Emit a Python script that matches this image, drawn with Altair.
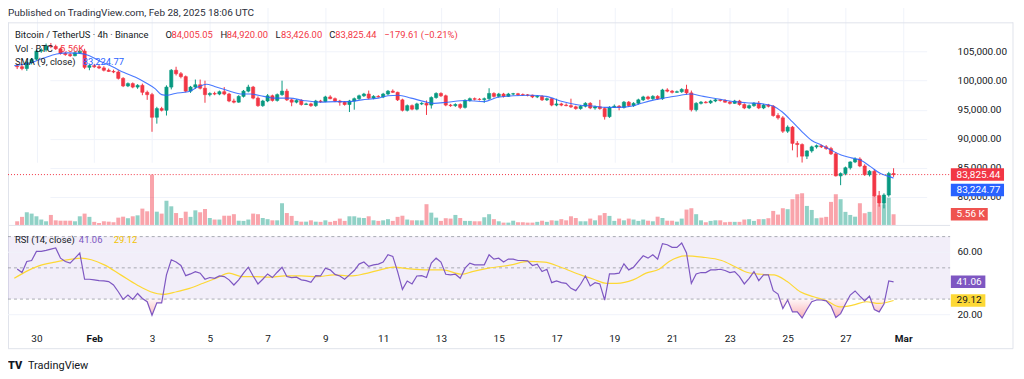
import altair as alt
import pandas as pd

# ---------------- values (prices in thousands USDT) ----------------
opens = [
    102.5, 102.4, 102.1, 103.1, 103.7, 105.1, 105.3, 106.0, 105.9, 105.5,
    104.7, 104.5, 104.3, 104.8, 105.1, 102.3, 102.6, 102.4, 102.2, 101.8,
    101.6, 101.5, 100.4, 99.1, 99.5, 98.9, 99.2, 98.0, 97.6, 93.7,
    95.2, 94.9, 98.9, 101.8, 101.2, 100.7, 98.2, 98.9, 99.3, 98.7,
    97.6, 97.8, 97.7, 98.1, 97.7, 96.5, 96.3, 97.3, 98.2, 98.9,
    97.0, 95.7, 96.5, 97.4, 96.6, 97.6, 98.2, 96.7, 96.3, 96.6,
    95.9, 96.0, 95.7, 96.5, 96.4, 97.2, 96.9, 96.5, 96.3, 95.9,
    96.5, 96.9, 97.4, 97.7, 97.0, 97.3, 97.2, 97.7, 98.2, 98.0,
    96.7, 94.9, 95.7, 95.1, 96.0, 96.1, 95.8, 97.1, 97.8, 97.4,
    95.8, 95.7, 95.9, 95.4, 96.6, 96.9, 96.8, 96.75, 96.9, 97.8,
    97.3, 97.7, 97.3, 97.7, 97.75, 97.6, 97.55, 97.5, 97.2, 97.3,
    96.7, 96.9, 95.8, 96.0, 95.8, 95.7, 95.5, 95.2, 95.6, 96.1,
    95.3, 95.5, 95.2, 93.8, 95.4, 95.6, 95.4, 96.3, 95.7, 96.1,
    96.7, 97.2, 96.9, 97.3, 96.9, 98.4, 98.2, 98.0, 98.1, 98.5,
    97.9, 95.0, 96.1, 96.3, 96.2, 96.5, 96.7, 96.6, 96.3, 96.1,
    96.5, 95.9, 95.3, 95.7, 96.1, 95.3, 95.8, 95.6, 94.0, 93.6,
    91.3, 92.0, 89.2, 89.0, 87.0, 87.9, 88.6, 88.8, 88.6, 88.3,
    87.4, 83.6, 84.0, 85.0, 86.0, 86.5, 85.3, 83.8, 84.4, 80.2,
    78.9, 80.3, 84.00505,
]
highs = [
    102.9, 102.8, 103.4, 103.9, 105.4, 105.6, 106.4, 106.5, 106.2, 105.7,
    105.0, 104.8, 105.0, 105.3, 105.5, 102.8, 102.9, 102.7, 102.5, 102.1,
    101.9, 101.8, 100.6, 99.7, 99.7, 99.4, 99.5, 98.3, 97.9, 95.5,
    95.5, 99.2, 102.0, 102.4, 101.5, 100.9, 99.1, 100.2, 100.2, 100.0,
    98.0, 98.1, 98.3, 98.9, 97.9, 96.9, 97.5, 98.4, 99.3, 99.1,
    97.3, 96.7, 97.7, 97.6, 97.8, 100.0, 98.6, 96.9, 96.8, 96.8,
    96.2, 96.2, 96.7, 96.7, 97.4, 97.5, 97.1, 96.7, 96.5, 96.7,
    97.1, 97.6, 97.9, 98.3, 97.5, 97.5, 97.9, 98.4, 98.5, 98.1,
    96.9, 95.9, 95.9, 96.2, 96.3, 96.6, 97.3, 98.0, 98.0, 97.6,
    96.0, 96.1, 96.1, 96.8, 97.1, 97.1, 97.0, 97.1, 98.7, 98.0,
    97.9, 97.9, 97.9, 97.9, 97.9, 97.8, 97.7, 97.6, 97.5, 97.5,
    97.1, 97.0, 96.9, 96.2, 96.1, 96.9, 95.7, 95.8, 96.3, 96.3,
    95.7, 96.7, 95.4, 95.6, 95.9, 95.8, 96.5, 96.5, 96.3, 96.9,
    97.4, 97.4, 97.5, 97.5, 98.6, 98.7, 98.4, 98.3, 98.7, 99.3,
    98.3, 96.3, 96.5, 96.5, 96.7, 96.9, 96.8, 96.8, 96.5, 96.7,
    96.7, 96.1, 95.9, 96.3, 96.5, 96.0, 96.0, 95.8, 94.4, 93.9,
    92.3, 92.2, 89.6, 89.2, 88.0, 88.8, 89.0, 89.0, 88.9, 88.6,
    87.7, 84.2, 85.2, 86.1, 86.8, 86.8, 85.6, 84.6, 84.7, 81.0,
    80.6, 84.3, 84.92,
]
lows = [
    102.0, 101.8, 101.7, 102.8, 103.5, 104.8, 105.0, 105.6, 105.3, 104.5,
    104.3, 104.1, 104.2, 104.6, 102.0, 101.8, 102.2, 102.0, 101.6, 101.5,
    101.3, 100.2, 98.9, 98.9, 98.7, 98.6, 97.5, 96.7, 91.2, 92.6,
    94.7, 94.0, 98.5, 100.9, 100.4, 98.0, 97.9, 98.6, 98.5, 96.2,
    97.3, 97.5, 97.5, 97.5, 96.3, 96.1, 96.2, 97.1, 98.0, 96.8,
    95.5, 95.5, 96.3, 96.4, 96.4, 97.4, 96.5, 95.6, 96.1, 95.7,
    95.8, 95.5, 95.5, 96.2, 96.3, 96.8, 96.3, 95.7, 95.7, 94.6,
    95.0, 96.7, 97.2, 96.8, 96.8, 97.1, 97.0, 97.5, 97.9, 96.5,
    94.7, 94.7, 94.9, 94.9, 95.8, 94.1, 95.2, 96.9, 97.2, 95.6,
    95.5, 95.5, 95.1, 95.2, 96.4, 96.6, 96.6, 96.2, 96.7, 97.1,
    97.1, 97.1, 97.2, 97.5, 97.4, 97.4, 97.3, 97.0, 97.0, 96.5,
    96.5, 95.6, 95.6, 95.6, 95.6, 95.3, 95.0, 95.0, 95.4, 95.1,
    95.0, 95.0, 93.3, 93.6, 95.3, 94.9, 95.2, 95.5, 95.5, 95.9,
    96.5, 96.7, 96.7, 96.7, 96.7, 98.0, 97.8, 97.9, 97.9, 97.6,
    94.7, 94.7, 95.9, 96.1, 96.0, 96.3, 96.4, 96.2, 95.9, 96.0,
    95.7, 95.1, 95.1, 95.5, 95.1, 95.1, 95.4, 93.8, 93.3, 91.0,
    91.0, 88.0, 86.8, 85.9, 86.5, 87.6, 88.3, 88.4, 88.1, 87.2,
    83.5, 82.0, 83.7, 84.7, 85.8, 85.1, 83.6, 83.5, 80.0, 78.3,
    78.0, 80.0, 83.426,
]
closes = [
    102.4, 102.1, 103.1, 103.7, 105.1, 105.3, 106.0, 105.9, 105.5, 104.7,
    104.5, 104.3, 104.8, 105.1, 102.3, 102.6, 102.4, 102.2, 101.8, 101.6,
    101.5, 100.4, 99.1, 99.5, 98.9, 99.2, 98.0, 97.6, 93.7, 95.2,
    94.9, 98.9, 101.8, 101.2, 100.7, 98.2, 98.9, 99.3, 98.7, 97.6,
    97.8, 97.7, 98.1, 97.7, 96.5, 96.3, 97.3, 98.2, 98.9, 97.0,
    95.7, 96.5, 97.4, 96.6, 97.6, 98.2, 96.7, 96.3, 96.6, 95.9,
    96.0, 95.7, 96.5, 96.4, 97.2, 96.9, 96.5, 96.3, 95.9, 96.5,
    96.9, 97.4, 97.7, 97.0, 97.3, 97.2, 97.7, 98.2, 98.0, 96.7,
    94.9, 95.7, 95.1, 96.0, 96.1, 95.8, 97.1, 97.8, 97.4, 95.8,
    95.7, 95.9, 95.4, 96.6, 96.9, 96.8, 96.75, 96.9, 97.8, 97.3,
    97.7, 97.3, 97.7, 97.75, 97.6, 97.55, 97.5, 97.2, 97.3, 96.7,
    96.9, 95.8, 96.0, 95.8, 95.7, 95.5, 95.2, 95.6, 96.1, 95.3,
    95.5, 95.2, 93.8, 95.4, 95.6, 95.4, 96.3, 95.7, 96.1, 96.7,
    97.2, 96.9, 97.3, 96.9, 98.4, 98.2, 98.0, 98.1, 98.5, 97.9,
    95.0, 96.1, 96.3, 96.2, 96.5, 96.7, 96.6, 96.3, 96.1, 96.5,
    95.9, 95.3, 95.7, 96.1, 95.3, 95.8, 95.6, 94.0, 93.6, 91.3,
    92.0, 89.2, 89.0, 87.0, 87.9, 88.6, 88.8, 88.6, 88.3, 87.4,
    83.6, 84.0, 85.0, 86.0, 86.5, 85.3, 83.8, 84.4, 80.2, 78.9,
    80.3, 84.00505, 83.82544,
]
volumes_k = [
    1.9, 4.2, 6.6, 5.9, 4.5, 2.8, 1.9, 5.2, 2.4, 2.2,
    2.2, 2.2, 1.9, 4.5, 5.9, 4.2, 1.6, 1.0, 1.9, 1.7,
    1.4, 3.8, 4.3, 3.5, 4.5, 5.0, 8.5, 7.1, 26.2, 6.9,
    5.9, 12.6, 9.7, 6.2, 3.6, 6.9, 4.2, 7.6, 6.6, 8.3,
    3.6, 2.8, 2.8, 4.8, 4.8, 5.6, 2.2, 2.1, 2.8, 5.9,
    5.6, 3.6, 3.0, 2.4, 2.4, 11.3, 6.2, 4.7, 2.1, 1.7,
    1.7, 2.4, 1.7, 1.6, 2.4, 1.6, 2.1, 3.3, 2.1, 4.5,
    4.5, 3.8, 3.6, 4.5, 2.4, 2.1, 2.4, 3.0, 2.1, 4.2,
    4.8, 2.8, 2.4, 2.4, 2.4, 10.8, 6.4, 3.8, 2.1, 3.5,
    3.3, 5.2, 3.6, 2.1, 2.1, 1.9, 1.9, 4.0, 5.6, 3.0,
    1.9, 1.2, 1.2, 2.2, 1.4, 1.4, 1.2, 1.2, 1.6, 2.2,
    1.6, 2.4, 2.2, 3.0, 2.4, 4.5, 3.6, 1.9, 1.9, 3.3,
    2.4, 5.0, 6.2, 4.7, 2.1, 3.3, 2.4, 3.3, 2.8, 2.1,
    2.8, 2.2, 1.9, 4.3, 3.6, 2.2, 2.2, 1.7, 3.3, 8.0,
    8.7, 5.6, 2.4, 1.4, 2.1, 2.4, 2.4, 1.4, 1.6, 1.6,
    1.6, 2.8, 3.0, 2.1, 3.0, 3.0, 3.5, 7.3, 5.4, 8.7,
    8.2, 13.4, 16.0, 16.5, 9.9, 7.8, 3.5, 3.8, 4.2, 12.0,
    16.0, 13.4, 6.8, 5.2, 4.3, 11.3, 6.1, 6.8, 15.6, 10.8,
    10.8, 14.2, 5.56,
]
rsi_values = [
    49.3, 47.0, 54.1, 54.7, 60.5, 60.5, 61.2, 62.0, 62.7, 56.2,
    54.1, 53.0, 56.2, 59.5, 42.7, 42.7, 42.3, 41.8, 41.6, 41.2,
    39.0, 34.7, 29.8, 32.6, 29.8, 33.6, 30.4, 28.3, 19.7, 27.6,
    27.6, 45.5, 55.2, 53.7, 51.5, 45.0, 46.1, 47.6, 46.6, 42.7,
    43.8, 43.3, 44.8, 44.4, 42.3, 39.0, 42.3, 46.6, 50.4, 44.8,
    39.7, 42.7, 46.1, 43.8, 47.2, 50.4, 44.4, 43.8, 44.0, 42.3,
    41.8, 40.7, 45.0, 44.8, 49.8, 48.7, 45.8, 44.8, 42.7, 45.5,
    48.3, 52.4, 53.7, 50.9, 51.9, 52.4, 53.7, 58.4, 57.3, 47.6,
    36.2, 41.6, 39.7, 44.8, 45.0, 43.8, 53.0, 56.2, 53.7, 45.9,
    45.5, 45.9, 43.3, 49.8, 53.0, 51.9, 51.9, 51.9, 58.4, 55.6,
    56.2, 53.7, 55.6, 55.6, 54.7, 54.7, 54.5, 51.5, 52.4, 47.6,
    49.1, 40.5, 41.6, 40.5, 40.1, 36.9, 35.4, 39.5, 44.8, 38.4,
    40.5, 39.7, 29.4, 46.1, 46.1, 46.6, 52.6, 48.7, 50.4, 54.1,
    57.7, 56.2, 58.4, 55.6, 65.5, 64.8, 63.1, 63.1, 65.9, 59.5,
    40.1, 46.1, 47.0, 47.0, 48.7, 48.7, 49.1, 48.3, 47.0, 47.6,
    44.4, 39.7, 43.3, 47.6, 41.8, 45.5, 45.5, 35.4, 33.2, 24.0,
    29.4, 21.8, 21.8, 17.9, 23.3, 28.3, 29.4, 29.4, 28.9, 25.5,
    18.2, 20.7, 26.8, 32.6, 35.2, 31.9, 28.9, 31.9, 23.3, 21.8,
    26.8, 41.6, 41.06,
]
# SMA(9, close) read at sample positions (candle index, thousands)
sma_idx = [-0.6, 2.8, 5.5, 8.2, 10.6, 13, 15, 17.1, 19.8, 22.2, 24.6, 26.6, 28.7, 30, 31.1,
           32.8, 35.5, 37.5, 39.3, 41, 43.7, 46.8, 48.5, 51.2, 53.2, 56.6, 59.4, 62.8, 66.2,
           68.9, 71.6, 75, 77, 79.1, 81.8, 84.6, 86.6, 89.3, 93.1, 96.9, 99.6, 103, 106.4,
           109.8, 113.2, 116.6, 120, 122.1, 124.8, 127.5, 129.6, 132.3, 135, 137.8, 139.8,
           142.5, 145.3, 148, 151.4, 154.8, 156.8, 158.9, 161, 163, 165, 167, 169.1, 171.1,
           173.2, 175.2, 177.2, 179.3, 180.7, 182]
sma_vals = [102.6, 103.1, 103.9, 104.6, 104.8, 104.7, 104.3, 103.4, 102.4, 101.4, 100.6, 99.7,
            98.6, 97.6, 97.5, 97.8, 98.1, 98.9, 99.4, 99.0, 98.3, 97.7, 97.7, 97.3, 97.0, 97.0,
            96.6, 96.3, 96.4, 96.4, 96.7, 97.0, 97.4, 97.5, 97.0, 96.4, 96.1, 96.3, 96.6, 96.4,
            97.1, 97.4, 97.5, 97.3, 96.4, 95.8, 95.6, 95.4, 95.4, 95.6, 96.1, 96.7, 97.1, 97.5,
            97.7, 97.3, 96.9, 96.5, 96.2, 96.0, 95.7, 94.6, 92.9, 91.2, 89.7, 88.9, 88.0, 87.2,
            86.7, 86.3, 85.2, 84.0, 83.6, 83.22477]
# RSI-based MA read at sample positions
rsi_ma_idx = [-0.6, 1.8, 4.5, 7.9, 11.3, 13.3, 15.4, 18.1, 21.5, 24.9, 27.7, 30.4, 33.1, 35.8,
              38.6, 41.3, 44.0, 46.7, 49.5, 52.2, 55.6, 59.0, 62.4, 65.8, 69.2, 72.0, 75.4,
              78.1, 81.5, 85.6, 88.3, 92.4, 94.5, 97.9, 102.6, 106.1, 109.5, 112.9, 117,
              119.7, 122.4, 124.5, 127.9, 130.6, 133.3, 135.4, 138.8, 142.2, 146.3, 149,
              151.7, 154.5, 157.2, 159.9, 162.6, 165.4, 168.1, 170.8, 173.5, 176.3, 179, 182]
rsi_ma_vals = [43.3, 47.6, 51.3, 53.7, 55.6, 56.2, 55.2, 51.9, 45.5, 39.0, 34.7, 33.0, 34.7,
               36.9, 40.1, 43.3, 46.6, 44.4, 44.4, 44.0, 44.8, 44.8, 44.4, 45.5, 44.8, 46.1,
               48.7, 50.4, 49.3, 48.7, 48.7, 45.9, 47.6, 49.8, 51.9, 54.1, 53.7, 50.4, 45.5,
               42.7, 40.1, 40.1, 42.3, 46.6, 49.1, 54.1, 57.7, 56.9, 54.7, 50.9, 47.0, 45.9,
               45.5, 41.2, 34.7, 31.5, 28.9, 25.0, 26.1, 28.3, 27.2, 29.12]

price_ticks = [80000, 85000, 90000, 95000, 100000, 105000]
rsi_ticks = [20, 60]
rsi_levels = [70, 50, 30]
day_ticks = [(1, 30), (2, 1), (2, 3), (2, 5), (2, 7), (2, 9), (2, 11), (2, 13), (2, 15),
             (2, 17), (2, 19), (2, 21), (2, 23), (2, 25), (2, 27), (3, 1)]

# ---------------- tables ----------------
START = pd.Timestamp("2025-01-29 08:00:00")


def ts(idx):
    return (START + pd.Timedelta(hours=4 * idx)).strftime("%Y-%m-%dT%H:%M:%SZ")


n = len(closes)
candles = pd.DataFrame({
    "t": [ts(i) for i in range(n)],
    "open": [v * 1000 for v in opens],
    "high": [v * 1000 for v in highs],
    "low": [v * 1000 for v in lows],
    "close": [v * 1000 for v in closes],
    "vol": volumes_k,
    "rsi": rsi_values,
})
candles["dir"] = ["up" if c >= o else "down" for o, c in zip(opens, closes)]
sma_df = pd.DataFrame({"t": [ts(i) for i in sma_idx], "v": [v * 1000 for v in sma_vals]})
rsima_df = pd.DataFrame({"t": [ts(i) for i in rsi_ma_idx], "v": rsi_ma_vals})
last = candles.tail(1)
ONE = pd.DataFrame({"k": [0]})

# ---------------- styling ----------------
FONT = "Roboto"
TXT = "#131722"
UP, DN = "#089981", "#F23645"
SMA_C, RSI_C, RSIMA_C = "#2962FF", "#7E57C2", "#FDD835"
GRID, FRAME = "#F0F3FA", "#E0E3EB"
W, H = 944, 308
LEG = 9.4  # legend font size

X_SCALE = alt.Scale(type="utc",
                    domain=[alt.DateTime(year=2025, month=1, date=30, utc=True),
                            alt.DateTime(year=2025, month=3, date=1, utc=True)],
                    range=[23.5, 902])
PRICE = alt.Scale(domain=[80000, 105000], range=[174.8, 29.4], zero=False, nice=False)
VOL = alt.Scale(domain=[0, 30], range=[203, 145.3], zero=False, nice=False)
RSI = alt.Scale(domain=[0, 100], range=[324.25, 167.75], zero=False, nice=False)

x_enc = alt.X("t:T", scale=X_SCALE, axis=alt.Axis(
    values=[alt.DateTime(year=2025, month=m, date=d, utc=True) for m, d in day_ticks],
    labelExpr="utcdate(datum.value) == 1 ? utcFormat(datum.value, '%b') : '' + utcdate(datum.value)",
    labelFontWeight={"condition": {"test": "utcdate(datum.value) == 1", "value": "bold"}, "value": "normal"},
    grid=True, gridColor=GRID, domain=False, ticks=False, labelPadding=4,
    labelFont=FONT, labelFontSize=10, labelColor=TXT, title=None,
    labelFlush=False, labelOverlap=False, labelBound=False))
color_enc = alt.Color("dir:N", scale=alt.Scale(domain=["up", "down"], range=[UP, DN]), legend=None)
stroke_enc = alt.Stroke("dir:N", scale=alt.Scale(domain=["up", "down"], range=[UP, DN]), legend=None)
price_axis = alt.Axis(orient="right", values=price_ticks, format=",.2f", grid=True, gridColor=GRID,
                      domain=False, ticks=False, labelPadding=7, labelFont=FONT, labelFontSize=10,
                      labelColor=TXT, title=None, labelOverlap=False)


def txt(s, x, y, color=TXT, size=LEG, weight="normal"):
    return alt.Chart(ONE).mark_text(align="left", baseline="middle", font=FONT, fontSize=size,
                                    fontWeight=weight, color=color).encode(
        x=alt.value(x), y=alt.value(y), text=alt.value(s))


def hline(x1, x2, y, color=FRAME):
    return alt.Chart(ONE).mark_rule(color=color, strokeWidth=1).encode(
        x=alt.value(x1), x2=alt.value(x2), y=alt.value(y))


def vline(x, y1, y2, color=FRAME):
    return alt.Chart(ONE).mark_rule(color=color, strokeWidth=1).encode(
        x=alt.value(x), y=alt.value(y1), y2=alt.value(y2))


def box(df, field, scale, fill, width, text_enc, text_color="white", yoff=0):
    xc = 944.7 + width / 2
    b = alt.Chart(df).mark_tick(orient="horizontal", size=width, thickness=12.5, color=fill,
                                opacity=1, yOffset=yoff).encode(
        x=alt.value(xc), y=alt.Y(field, scale=scale, axis=None))
    t = alt.Chart(df).mark_text(align="left", baseline="middle", font=FONT, fontSize=10,
                                color=text_color, dy=yoff).encode(
        x=alt.value(950.5), y=alt.Y(field, scale=scale, axis=None), text=text_enc)
    return [b, t]


# ---------------- layers ----------------
frame = [hline(0, 1007, 0.5), hline(0, 1007, 327), vline(0.5, 0, 327), vline(1007, 0, 327),
         hline(0, W, 203.5)]

band = alt.Chart(ONE).mark_rect(color=RSI_C, opacity=0.1).encode(
    x=alt.value(0), x2=alt.value(W),
    y=alt.YDatum(70, scale=RSI, axis=None), y2=alt.Y2Datum(30))
rsi_grid = alt.Chart(pd.DataFrame({"lv": rsi_ticks})).mark_rule(color=GRID).encode(
    x=alt.value(0), x2=alt.value(W), y=alt.Y("lv:Q", scale=RSI, axis=None))
rsi_lab = alt.Chart(pd.DataFrame({"lv": rsi_ticks})).mark_text(
    align="left", baseline="middle", font=FONT, fontSize=10, color=TXT).encode(
    x=alt.value(951.3), y=alt.Y("lv:Q", scale=RSI, axis=None), text=alt.Text("lv:Q", format=".2f"))
levels = alt.Chart(pd.DataFrame({"lv": rsi_levels})).mark_rule(
    color="#9598A1", strokeDash=[3, 3], strokeWidth=1, opacity=0.8).encode(
    x=alt.value(0), x2=alt.value(W), y=alt.Y("lv:Q", scale=RSI, axis=None))
oversold = alt.Chart(candles).transform_calculate(lo="min(datum.rsi, 30)", hi="30").mark_area(
    color=alt.Gradient(gradient="linear",
                       stops=[alt.GradientStop(color="rgba(242,54,69,0.04)", offset=0),
                              alt.GradientStop(color="rgba(242,54,69,0.38)", offset=1)],
                       x1=0, x2=0, y1=0, y2=1)).encode(
    x=x_enc, y=alt.Y("lo:Q", scale=RSI, axis=None), y2="hi:Q")
rsi_ma_line = alt.Chart(rsima_df).mark_line(color=RSIMA_C, strokeWidth=1.2, interpolate="monotone").encode(
    x=x_enc, y=alt.Y("v:Q", scale=RSI, axis=None))
rsi_line = alt.Chart(candles).mark_line(color=RSI_C, strokeWidth=1.2).encode(
    x=x_enc, y=alt.Y("rsi:Q", scale=RSI, axis=None))

vol = alt.Chart(candles).mark_bar(size=4, opacity=0.45).encode(
    x=x_enc, y=alt.Y("vol:Q", scale=VOL, axis=None), color=color_enc)
price_line = alt.Chart(last).mark_rule(color=DN, strokeDash=[1, 2], strokeWidth=1).encode(
    x=alt.value(0), x2=alt.value(W), y=alt.Y("close:Q", scale=PRICE, axis=None))
wick = alt.Chart(candles).mark_rule(strokeWidth=1, opacity=1).encode(
    x=x_enc, y=alt.Y("low:Q", scale=PRICE, axis=price_axis), y2="high:Q", color=color_enc)
body = alt.Chart(candles).mark_bar(size=3.2, strokeWidth=0.6, opacity=1).encode(
    x=x_enc, y=alt.Y("open:Q", scale=PRICE, axis=None), y2="close:Q",
    color=color_enc, stroke=stroke_enc)
sma_line = alt.Chart(sma_df).mark_line(color=SMA_C, strokeWidth=1.1, opacity=0.85,
                                       interpolate="monotone").encode(
    x=x_enc, y=alt.Y("v:Q", scale=PRICE, axis=None))

vol_last = last.copy()
boxes = (
    box(last, "close:Q", PRICE, DN, 53.3, alt.Text("close:Q", format=",.2f"))
    + box(sma_df.tail(1), "v:Q", PRICE, SMA_C, 53.3, alt.Text("v:Q", format=",.2f"), yoff=12)
    + box(vol_last, "vol:Q", VOL, "#EF5350", 37, alt.Text("vol:Q", format=".2f"))
    + box(last, "rsi:Q", RSI, RSI_C, 34.6, alt.Text("rsi:Q", format=".2f"))
    + box(rsima_df.tail(1), "v:Q", RSI, RSIMA_C, 34.6, alt.Text("v:Q", format=".2f"), text_color=TXT)
)
# "K" suffix of the volume box
boxes.append(alt.Chart(vol_last).mark_text(align="left", baseline="middle", font=FONT, fontSize=10,
                                           color="white").encode(
    x=alt.value(972.5), y=alt.Y("vol:Q", scale=VOL, axis=None), text=alt.value("K")))

# ---------------- header / legend texts (values derived from the data) ----------------
o, h, l, c = opens[-1] * 1000, highs[-1] * 1000, lows[-1] * 1000, closes[-1] * 1000
prev = closes[-2] * 1000
chg = c - prev
pct = chg / prev * 100
chg_s = f"{chg:+,.2f} ({pct:+.2f}%)".replace("-", "\u2212")
texts = [
    txt("Published on TradingView.com, Feb 28, 2025 18:06 UTC", 0, -9, color="#2A2E39", size=10),
    txt("Bitcoin / TetherUS \u00b7 4h \u00b7 Binance", 7, 13),
    txt("O", 157.7, 13), txt(f"{o:,.2f}", 163.8, 13, color=DN),
    txt("H", 212.8, 13), txt(f"{h:,.2f}", 219.2, 13, color=DN),
    txt("L", 268, 13), txt(f"{l:,.2f}", 273.5, 13, color=DN),
    txt("C", 322, 13), txt(f"{c:,.2f}", 328, 13, color=DN),
    txt(chg_s, 377, 13, color=DN),
    txt("Vol \u00b7 BTC", 7, 27), txt(f"{volumes_k[-1]:.2f}K", 52, 27, color=DN),
    txt("SMA (9, close)", 7, 40), txt(f"{sma_vals[-1] * 1000:,.2f}", 75, 40, color=SMA_C),
    txt("RSI (14, close)", 7, 218), txt(f"{rsi_values[-1]:.2f}", 71, 218, color=RSI_C),
    txt(f"{rsi_ma_vals[-1]:.2f}", 106, 218, color="#F2C300"),
    txt("TV", 0, 344, color="#131722", size=11, weight=900),
    txt("TradingView", 20, 344, color="#131722", size=11),
]

layers = (frame + [band, rsi_grid, levels, oversold, rsi_ma_line, rsi_line, rsi_lab,
                   vol, price_line, wick, body, sma_line] + boxes + texts)

chart = alt.layer(*layers).resolve_scale(y="independent").properties(
    width=W, height=H,
    autosize=alt.AutoSizeParams(type="none"),
    padding={"left": 0, "top": 14, "right": 66, "bottom": 41},
    background="white",
).configure_view(strokeWidth=0)

chart.save("out.html", embed_options={"renderer": "svg", "actions": False})
